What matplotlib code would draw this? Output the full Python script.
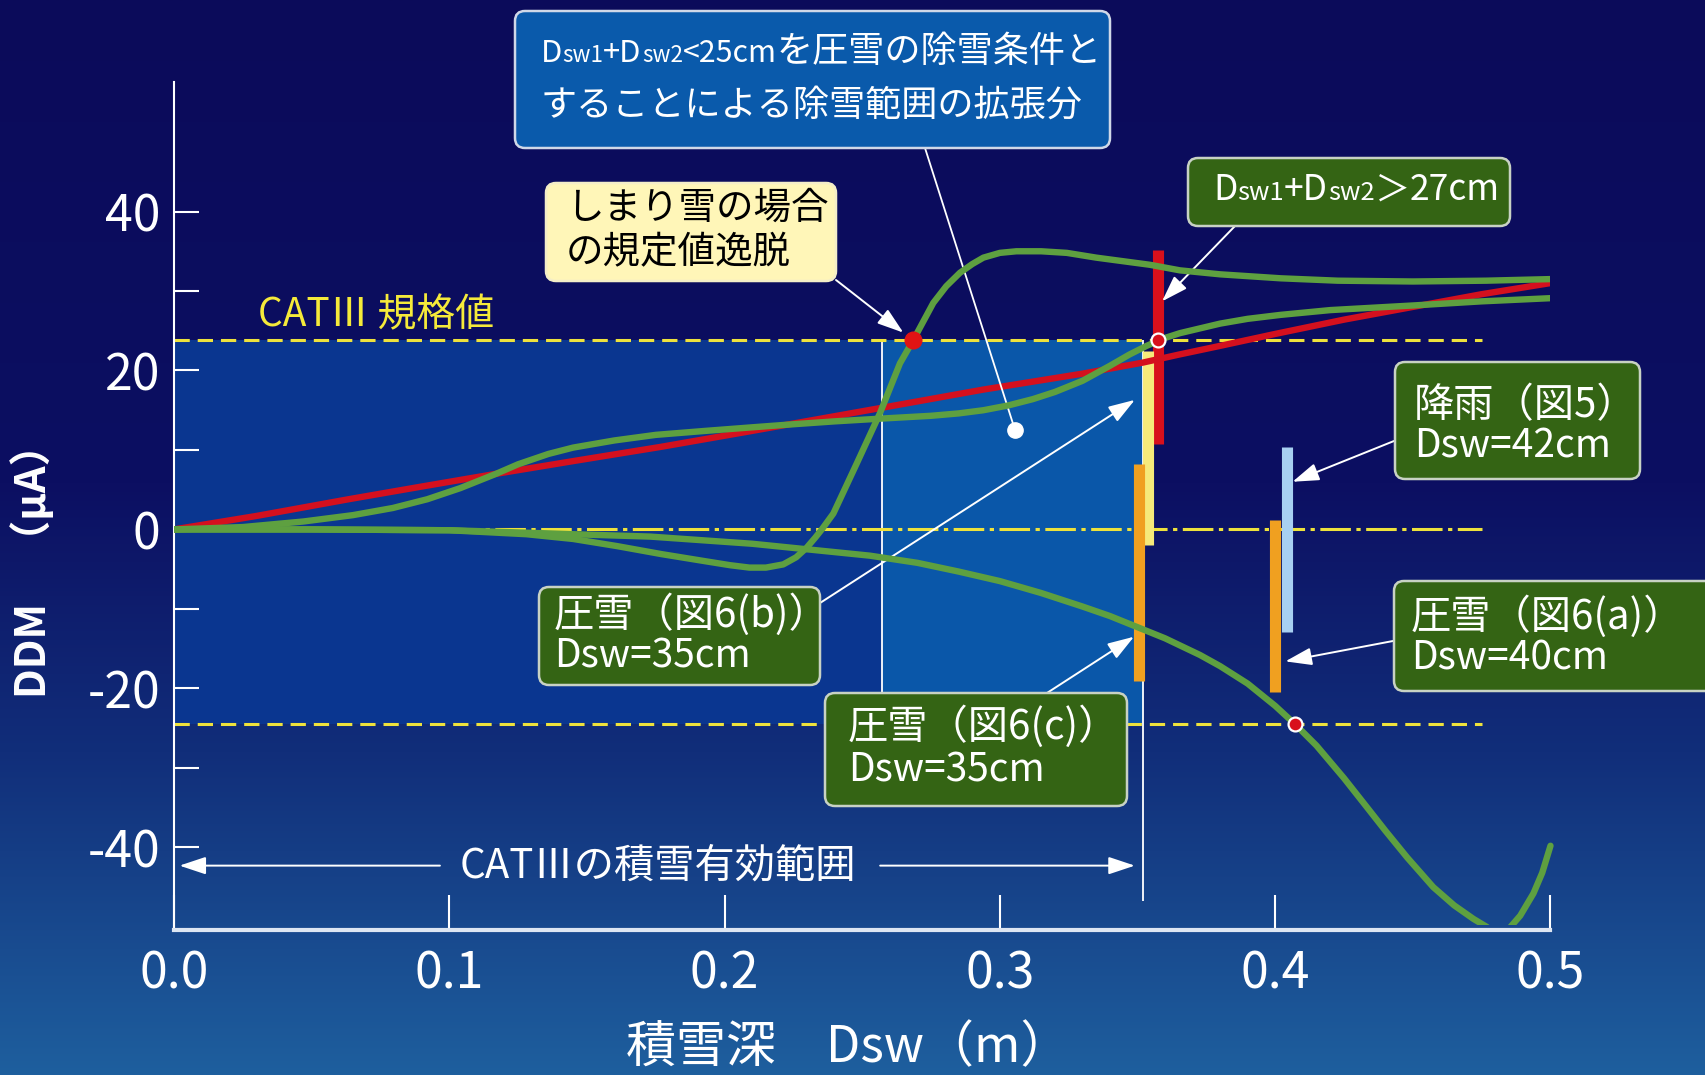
import numpy as np
import matplotlib
matplotlib.use("Agg")
import matplotlib.pyplot as plt
from matplotlib.patches import FancyBboxPatch, Rectangle
from matplotlib.offsetbox import TextArea, HPacker, AnnotationBbox
from matplotlib.transforms import Affine2D

# ---------------- data ----------------
# red reference curve
depth_red = [0, 0.03, 0.0634, 0.09, 0.117, 0.145, 0.177, 0.21, 0.257, 0.294, 0.33, 0.352,
             0.365, 0.38, 0.40, 0.425, 0.45, 0.475, 0.50]
ddm_red = [0, 1.7, 3.8, 5.4, 7.0, 8.6, 10.4, 12.4, 15.3, 17.6, 19.6, 21.0,
           22.0, 23.1, 24.6, 26.4, 28.0, 29.6, 31.0]

# green S-shaped curve
depth_s = [0, 0.025, 0.047, 0.065, 0.0795, 0.092, 0.104, 0.117, 0.125, 0.136, 0.145, 0.16,
           0.175, 0.193, 0.21, 0.2255, 0.24, 0.257, 0.275, 0.285, 0.294, 0.303, 0.312, 0.32,
           0.33, 0.34, 0.347, 0.3533, 0.36, 0.3654, 0.38, 0.39, 0.402, 0.42, 0.451, 0.475, 0.50]
ddm_s = [0, 0.3, 1.0, 1.8, 2.7, 3.8, 5.2, 7.0, 8.2, 9.5, 10.3, 11.2,
         11.9, 12.4, 12.85, 13.25, 13.6, 13.95, 14.3, 14.6, 15.0, 15.6, 16.4, 17.3,
         18.7, 20.6, 22.0, 23.1, 24.1, 24.7, 25.9, 26.5, 27.0, 27.6, 28.2, 28.7, 29.1]

# green curve with dip and overshoot (compacted snow)
depth_peak = [0, 0.05, 0.10, 0.128, 0.145, 0.161, 0.177, 0.193, 0.202, 0.209, 0.215, 0.2213,
              0.226, 0.2298, 0.233, 0.2353, 0.2395, 0.248, 0.2564, 0.2637, 0.2685, 0.2758,
              0.2805, 0.2855, 0.29, 0.294, 0.30, 0.306, 0.315, 0.3243, 0.335, 0.3545, 0.3654,
              0.38, 0.402, 0.4227, 0.45, 0.4766, 0.50]
ddm_peak = [0, 0, -0.1, -0.6, -1.2, -2.1, -3.1, -4.0, -4.5, -4.8, -4.8, -4.4,
            -3.5, -2.3, -1.0, 0.0, 2.0, 8.3, 14.6, 20.9, 23.8, 28.5,
            30.6, 32.3, 33.4, 34.2, 34.8, 35.0, 35.0, 34.8, 34.2, 33.3, 32.6,
            32.1, 31.6, 31.3, 31.2, 31.3, 31.5]

# green descending curve
depth_down = [0, 0.05, 0.10, 0.145, 0.173, 0.21, 0.2528, 0.27, 0.285, 0.30, 0.315, 0.33,
              0.34, 0.35, 0.36, 0.3727, 0.38, 0.39, 0.40, 0.4072, 0.415, 0.425, 0.4332,
              0.44, 0.448, 0.4574, 0.465, 0.472, 0.4768, 0.4805, 0.484, 0.489, 0.4938,
              0.497, 0.50]
ddm_down = [0, 0, -0.1, -0.6, -0.9, -1.8, -3.3, -4.2, -5.3, -6.5, -8.0, -9.7,
            -10.9, -12.3, -13.7, -15.8, -17.2, -19.4, -22.2, -24.5, -27.2, -31.3, -34.9,
            -37.9, -41.3, -45.0, -47.3, -49.0, -50.0, -51.2, -50.6, -48.6, -45.8,
            -43.2, -39.8]

# CAT III limits and shaded ranges
cat3_upper, cat3_lower = 23.8, -24.5
limit_line_end = 0.475
band_x = [0, 0.257, 0.352]
range_line_bottom = -46.7

# measured spreads (vertical bars)
bar_x = [0.3575, 0.3538, 0.3504, 0.4042, 0.4001]
bar_top = [35.2, 22.4, 8.2, 10.4, 1.2]
bar_bottom = [10.8, -2.0, -19.1, -12.9, -20.4]
bar_colors = ["#d8101c", "#f6ea7a", "#f0a020", "#a8d0f2", "#f0a020"]

# limit-crossing markers
exceed_x, exceed_y = [0.2685], [23.8]
cross_x, cross_y = [0.3575, 0.4072], [23.8, -24.5]
extension_x, extension_y = [0.3055], [12.5]

x_ticks = [0.0, 0.1, 0.2, 0.3, 0.4, 0.5]
x_ticklabels = ["0.0", "0.1", "0.2", "0.3", "0.4", "0.5"]
y_ticks = [-40, -30, -20, -10, 0, 10, 20, 30, 40]
y_ticklabels = ["-40", "", "-20", "", "0", "", "20", "", "40"]

# ---------------- figure ----------------
W, H = 1706, 1075
CJK = "Noto Sans CJK JP"
FAM = [CJK, "DejaVu Sans"]
plt.rcParams["font.family"] = FAM

fig = plt.figure(figsize=(W / 100, H / 100), dpi=100)
PX = Affine2D().scale(1 / W, -1 / H).translate(0, 1) + fig.transFigure


def fpx(x, y):
    return (x / W, 1 - y / H)


# background gradient
bg = fig.add_axes([0, 0, 1, 1], zorder=-10)
bg.set_axis_off()
t = np.linspace(0, 1, 600)
stops_t = [0, 0.45, 0.7, 1.0]
stops_c = np.array([[11, 11, 90], [12, 15, 98], [17, 46, 122], [30, 95, 158]]) / 255
rgb = np.stack([np.interp(t, stops_t, stops_c[:, k]) for k in range(3)], axis=1)
bg.imshow(np.repeat(rgb[:, None, :], 2, axis=1), aspect="auto", extent=[0, 1, 0, 1],
          origin="upper", interpolation="bilinear")
bg.set_xlim(0, 1)
bg.set_ylim(0, 1)

ax = fig.add_axes([174 / W, 1 - 930 / H, 1376.5 / W, 848.4 / H])
ax.set_facecolor("none")
ax.set_xlim(0, 0.5)
ax.set_ylim(-50.4, 56.35)

# shaded ranges
ax.fill_between(band_x[:2], cat3_lower, cat3_upper, color="#0a3690", lw=0, zorder=0.5)
ax.fill_between(band_x[1:], cat3_lower, cat3_upper, color="#0a57a9", lw=0, zorder=0.5)
ax.vlines(band_x[1], cat3_lower, cat3_upper, color="white", lw=1.3, zorder=0.8)
ax.vlines(band_x[2], range_line_bottom, cat3_upper, color="white", lw=1.3, zorder=0.8)

# limit lines
ax.hlines([cat3_upper, cat3_lower], 0, limit_line_end, colors="#eee23c", lw=2.2,
          linestyles=[(0, (5, 2.6))], zorder=1.5)
ax.hlines(0, 0, limit_line_end, colors="#eee23c", lw=2.2,
          linestyles=[(0, (10, 1.8, 1.4, 1.8))], zorder=1.5)

# spreads
for bx, bt, bb, bc in zip(bar_x, bar_top, bar_bottom, bar_colors):
    ax.plot([bx, bx], [bb, bt], color=bc, lw=8, solid_capstyle="butt", zorder=2)

# curves
GREEN = "#5ea040"
RED = "#d4101e"
clip = Rectangle((0, -49.8), 0.6, 120, transform=ax.transData)
style = dict(lw=4.6, solid_capstyle="round", solid_joinstyle="round")
ax.plot(depth_red, ddm_red, color=RED, zorder=3, **style)
ax.plot(depth_s, ddm_s, color=GREEN, zorder=3.1, **style)
ax.plot(depth_peak, ddm_peak, color=GREEN, zorder=3.1, **style)
ln, = ax.plot(depth_down, ddm_down, color=GREEN, zorder=3.1, **style)
ln.set_clip_path(clip)

# markers
ax.plot(exceed_x, exceed_y, "o", color="#e01414", ms=12, zorder=4)
ax.plot(cross_x, cross_y, "o", mfc="#d8101c", mec="white", mew=1.6, ms=10, zorder=4)
ax.plot(extension_x, extension_y, "o", color="white", ms=11, zorder=4)

# axes styling
for s in ("top", "right"):
    ax.spines[s].set_visible(False)
ax.spines["left"].set_color("white")
ax.spines["left"].set_linewidth(1.5)
ax.spines["bottom"].set_color("#dde6f2")
ax.spines["bottom"].set_linewidth(3)
ax.set_xticks(x_ticks, x_ticklabels)
ax.set_yticks(y_ticks, y_ticklabels)
ax.tick_params(axis="y", direction="in", length=18, width=1.5, color="white",
               labelcolor="white", labelsize=36, pad=10)
ax.tick_params(axis="x", direction="in", length=25, width=1.5, color="white",
               labelcolor="white", labelsize=36, pad=13)

# texts on the plot
ax.text(0.0305, 27.0, "CATⅢ 規格値", color="#f5ea3a", size=28, va="center", ha="left")
ax.text(0.1758, -42.3, "CATⅢの積雪有効範囲", color="white", size=29, va="center", ha="center")

ARW = dict(arrowstyle="-|>,head_length=0.9,head_width=0.3", color="white", lw=1.4,
           mutation_scale=18, shrinkA=0, shrinkB=0)
ax.annotate("", xy=(0.002, -42.3), xytext=(0.0966, -42.3), arrowprops=ARW)
ax.annotate("", xy=(0.349, -42.3), xytext=(0.2565, -42.3), arrowprops=ARW)

ax.annotate("", xy=(exceed_x[0], exceed_y[0]), xytext=fpx(836, 280), textcoords="figure fraction",
            arrowprops=dict(ARW, shrinkB=9))
ax.annotate("", xy=(extension_x[0], extension_y[0]), xytext=fpx(925, 148), textcoords="figure fraction",
            arrowprops=dict(arrowstyle="-", color="white", lw=1.3, shrinkA=0, shrinkB=0))
ax.annotate("", xy=(0.3589, 28.7), xytext=fpx(1235, 226), textcoords="figure fraction", arrowprops=ARW)
ax.annotate("", xy=(0.4063, 6.0), xytext=fpx(1394, 441), textcoords="figure fraction", arrowprops=ARW)
ax.annotate("", xy=(0.4037, -16.6), xytext=fpx(1393, 641), textcoords="figure fraction", arrowprops=ARW)
ax.annotate("", xy=(0.349, 16.3), xytext=fpx(820, 603), textcoords="figure fraction", arrowprops=ARW)
ax.annotate("", xy=(0.3487, -13.5), xytext=fpx(1047, 693), textcoords="figure fraction", arrowprops=ARW)


def box(x0, y0, x1, y1, fc, ec, r=10, lw=1.8):
    fig.add_artist(FancyBboxPatch((x0, y0), x1 - x0, y1 - y0,
                                  boxstyle=f"round,pad=0,rounding_size={r}",
                                  transform=PX, fc=fc, ec=ec, lw=lw, zorder=5))


def line(x, y, parts, size, color="white"):
    if isinstance(parts, str):
        parts = [(parts, 1.0)]
    areas = [TextArea(txt, textprops=dict(size=size * sc, color=color, family=FAM))
             for txt, sc in parts]
    pack = HPacker(children=areas, align="baseline", pad=0, sep=0)
    ab = AnnotationBbox(pack, fpx(x, y), xycoords="figure fraction", box_alignment=(0, 0.5),
                        frameon=False, pad=0, zorder=6)
    fig.add_artist(ab)


GBOX, GEDGE = "#346414", "#c8d2c4"

box(515, 11, 1110, 148, "#0a5aab", "#d0d8e8")
line(541, 52, [("D", 0.86), ("sw1", 0.62), ("+D", 0.86), ("sw2", 0.62), ("<25cm", 0.84),
               ("を圧雪の除雪条件と", 1)], 26)
line(541, 105.5, "することによる除雪範囲の拡張分", 26)

box(546, 183, 836, 281, "#fff6b8", "#f4eec8")
line(566, 208, "しまり雪の場合", 27, "black")
line(566, 252.5, "の規定値逸脱", 27, "black")

box(1188, 158, 1510, 226, GBOX, GEDGE)
line(1213, 190.5, [("D", 1), ("sw1", 0.72), ("+D", 1), ("sw2", 0.72), ("＞", 1), ("27cm", 1)], 25.5)

box(1395, 362, 1640, 479, GBOX, GEDGE)
line(1414, 406, "降雨（図5）", 29)
line(1414, 446, "Dsw=42cm", 28)

box(1394, 581, 1730, 691, GBOX, GEDGE)
line(1411, 617, "圧雪（図6(a)）", 29)
line(1411, 659, "Dsw=40cm", 28)

box(539, 587, 820, 685, GBOX, GEDGE)
line(554, 615, "圧雪（図6(b)）", 29)
line(554, 657, "Dsw=35cm", 28)

box(825, 693, 1127, 806, GBOX, GEDGE)
line(848, 727, "圧雪（図6(c)）", 29)
line(848, 770, "Dsw=35cm", 28)

# axis titles
fig.text(33 / W, 1 - 561 / H, "DDM　（μA）", rotation=90, ha="center", va="center",
         color="white", size=30, fontweight="bold", family=FAM)
fig.text(848 / W, 1 - 1048 / H, "積雪深　Dsw（m）", ha="center", va="center",
         color="white", size=36, family=FAM)

fig.savefig("out.png", dpi=100)
